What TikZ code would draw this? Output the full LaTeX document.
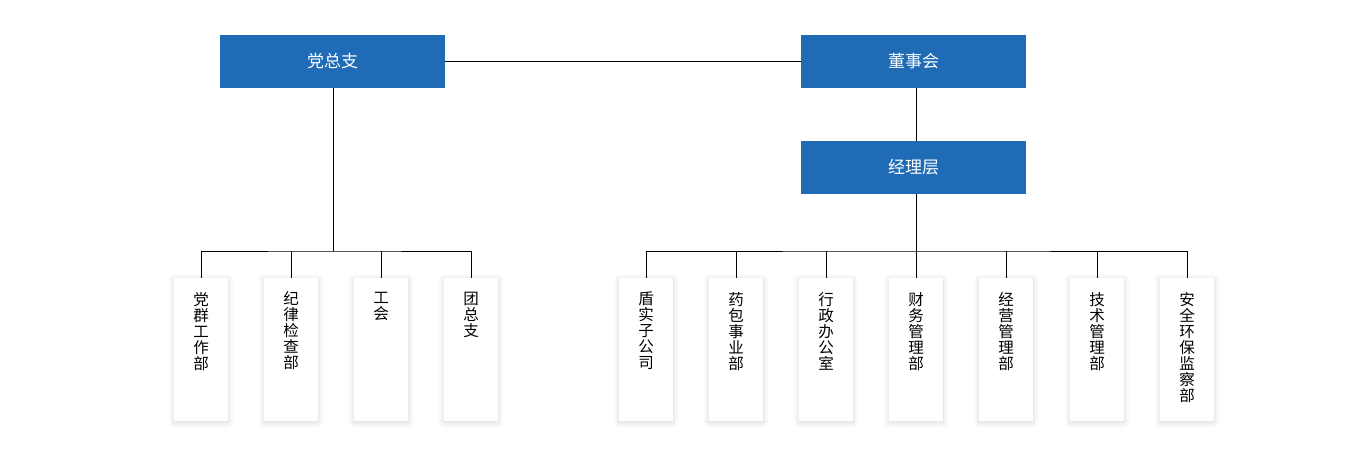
\documentclass[tikz,border=0pt]{standalone}
\usepackage{fontspec}
\setmainfont{Noto Sans CJK SC}
\usepackage{xcolor}
\usepackage{tikz}
\usetikzlibrary{positioning, shadows.blur}

\definecolor{headblue}{RGB}{31,107,181}

\begin{document}
\begin{tikzpicture}[x=1pt, y=-1pt,
    head/.style={fill=headblue, minimum width=225pt, minimum height=53pt, inner sep=0pt,
                 text=white, font=\fontsize{17}{20}\selectfont},
    dept/.style={fill=white, minimum width=54pt, minimum height=143pt, inner sep=0pt,
                 blur shadow={shadow xshift=0pt, shadow yshift=-1.5pt, shadow blur steps=10,
                              shadow blur radius=6pt, shadow opacity=16}},
    depttext/.style={anchor=north, align=center, inner sep=0pt, font=\fontsize{15.5}{16}\selectfont},
    link/.style={draw=black, line width=0.8pt}
]
    \useasboundingbox (0,0) rectangle (1366,454);

    % 顶层
    \node[head] (dzz) at (332.5,61.5) {党总支};
    \node[head] (dsh) at (913.5,61.5) {董事会};
    \node[head] (jlc) at (913.5,167.5) {经理层};

    % 党总支下属
    \node[dept] (l1) at (201,349.5) {};
    \node[dept] (l2) at (291,349.5) {};
    \node[dept] (l3) at (381,349.5) {};
    \node[dept] (l4) at (471,349.5) {};
    \node[depttext] (l1t) at ([yshift=-14pt]l1.north) {党\\群\\工\\作\\部};
    \node[depttext] (l2t) at ([yshift=-14pt]l2.north) {纪\\律\\检\\查\\部};
    \node[depttext] (l3t) at ([yshift=-14pt]l3.north) {工\\会};
    \node[depttext] (l4t) at ([yshift=-14pt]l4.north) {团\\总\\支};

    % 经理层下属
    \node[dept] (r1) at (646,349.5) {};
    \node[dept] (r2) at (736,349.5) {};
    \node[dept] (r3) at (826,349.5) {};
    \node[dept] (r4) at (916,349.5) {};
    \node[dept] (r5) at (1006,349.5) {};
    \node[dept] (r6) at (1097,349.5) {};
    \node[dept] (r7) at (1187,349.5) {};
    \node[depttext] (r1t) at ([yshift=-14pt]r1.north) {盾\\实\\子\\公\\司};
    \node[depttext] (r2t) at ([yshift=-14pt]r2.north) {药\\包\\事\\业\\部};
    \node[depttext] (r3t) at ([yshift=-14pt]r3.north) {行\\政\\办\\公\\室};
    \node[depttext] (r4t) at ([yshift=-14pt]r4.north) {财\\务\\管\\理\\部};
    \node[depttext] (r5t) at ([yshift=-14pt]r5.north) {经\\营\\管\\理\\部};
    \node[depttext] (r6t) at ([yshift=-14pt]r6.north) {技\\术\\管\\理\\部};
    \node[depttext] (r7t) at ([yshift=-14pt]r7.north) {安\\全\\环\\保\\监\\察\\部};

    % 连线
    \coordinate (lbus) at (333,251);
    \coordinate (rbus) at (916,251);
    \draw[link] (dzz) -- (dsh);
    \draw[link] (dzz.south -| lbus) -- (lbus);
    \draw[link] (l1.north) |- (lbus) -| (l4.north);
    \draw[link] (l2.north) -- (l2.north |- lbus);
    \draw[link] (l3.north) -- (l3.north |- lbus);

    \draw[link] (dsh.south -| rbus) -- (jlc.north -| rbus);
    \draw[link] (jlc.south -| rbus) -- (r4.north);
    \draw[link] (r1.north) |- (rbus) -| (r7.north);
    \draw[link] (r2.north) -- (r2.north |- rbus);
    \draw[link] (r3.north) -- (r3.north |- rbus);
    \draw[link] (r5.north) -- (r5.north |- rbus);
    \draw[link] (r6.north) -- (r6.north |- rbus);

\end{tikzpicture}
\end{document}
